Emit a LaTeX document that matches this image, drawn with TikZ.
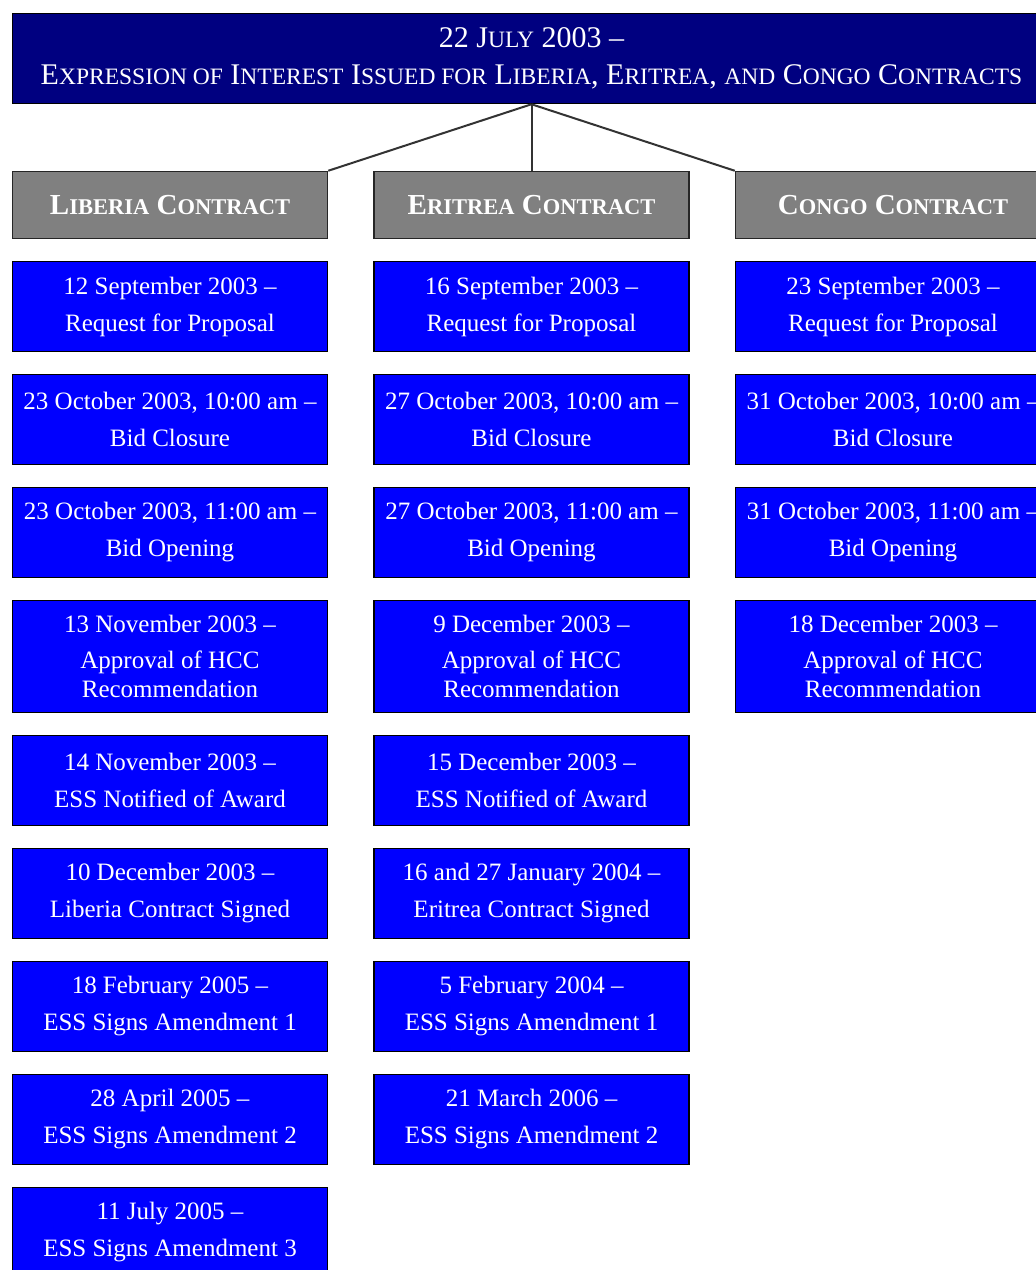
\documentclass[tikz,border=0pt]{standalone}
\usepackage{fontspec}
\setmainfont{Liberation Serif}
\usetikzlibrary{positioning}

\definecolor{topnavy}{RGB}{0,0,128}
\definecolor{headgray}{RGB}{128,128,128}
\definecolor{stepblue}{RGB}{0,0,255}
\definecolor{treegray}{RGB}{51,51,51}

% small capitals by hand
\newcommand{\lowcap}[1]{{\fontsize{23.5}{37}\selectfont #1}}
\newcommand{\headcap}[1]{{\fontsize{22.5}{29}\selectfont #1}}

\tikzset{
  topbox/.style={draw=black, line width=1.5pt, fill=topnavy, text=white, minimum width=1038pt, minimum height=90pt, align=center, font=\fontsize{30}{37}\selectfont},
  headbox/.style={draw=black!85, line width=1.5pt, fill=headgray, text=white, minimum width=315pt, minimum height=67pt, align=center, font=\bfseries\fontsize{29}{29}\selectfont},
  datebox/.style={draw=black, line width=1.5pt, fill=stepblue, text=white, minimum width=315pt, minimum height=90pt, align=center, font=\fontsize{25}{29}\selectfont},
  tallbox/.style={datebox, minimum height=112pt},
  treeline/.style={draw=treegray, line width=2pt}
}

\begin{document}
\begin{tikzpicture}[x=1pt,y=-1pt]
\useasboundingbox (0,0) rectangle (1036,1270);
\fill[white] (0,0) rectangle (1036,1270);
\clip (0,0) rectangle (1036,1270);

\node[topbox] (top) at (531.5,58.5) {22 J\lowcap{ULY} 2003 --\\E\lowcap{XPRESSION OF} I\lowcap{NTEREST} I\lowcap{SSUED FOR} L\lowcap{IBERIA}, E\lowcap{RITREA}, \lowcap{AND} C\lowcap{ONGO} C\lowcap{ONTRACTS}};

\node[headbox] (liberia) at (170,205) {L\headcap{IBERIA} C\headcap{ONTRACT}};
\node[headbox] (eritrea) at (531.5,205) {E\headcap{RITREA} C\headcap{ONTRACT}};
\node[headbox] (congo) at (893,205) {C\headcap{ONGO} C\headcap{ONTRACT}};

\draw[treeline] (top.south) -- (liberia.north east);
\draw[treeline] (top.south) -- (eritrea.north);
\draw[treeline] (top.south) -- (congo.north west);

% Liberia
\node[datebox] (lib1) at (170,306.5) {12 September 2003 --\\[8pt]Request for Proposal};
\node[datebox] (lib2) at (170,419.5) {23 October 2003, 10:00 am --\\[8pt]Bid Closure};
\node[datebox] (lib3) at (170,532.5) {23 October 2003, 11:00 am --\\[8pt]Bid Opening};
\node[tallbox] (lib4) at (170,656.5) {13 November 2003 --\\[7pt]Approval of HCC\\Recommendation};
\node[datebox] (lib5) at (170,780.5) {14 November 2003 --\\[8pt]ESS Notified of Award};
\node[datebox] (lib6) at (170,893.5) {10 December 2003 --\\[8pt]Liberia Contract Signed};
\node[datebox] (lib7) at (170,1006.5) {18 February 2005 --\\[8pt]ESS Signs Amendment 1};
\node[datebox] (lib8) at (170,1119.5) {28 April 2005 --\\[8pt]ESS Signs Amendment 2};
\node[datebox] (lib9) at (170,1232.5) {11 July 2005 --\\[8pt]ESS Signs Amendment 3};

% Eritrea
\node[datebox] (eri1) at (531.5,306.5) {16 September 2003 --\\[8pt]Request for Proposal};
\node[datebox] (eri2) at (531.5,419.5) {27 October 2003, 10:00 am --\\[8pt]Bid Closure};
\node[datebox] (eri3) at (531.5,532.5) {27 October 2003, 11:00 am --\\[8pt]Bid Opening};
\node[tallbox] (eri4) at (531.5,656.5) {9 December 2003 --\\[7pt]Approval of HCC\\Recommendation};
\node[datebox] (eri5) at (531.5,780.5) {15 December 2003 --\\[8pt]ESS Notified of Award};
\node[datebox] (eri6) at (531.5,893.5) {16 and 27 January 2004 --\\[8pt]Eritrea Contract Signed};
\node[datebox] (eri7) at (531.5,1006.5) {5 February 2004 --\\[8pt]ESS Signs Amendment 1};
\node[datebox] (eri8) at (531.5,1119.5) {21 March 2006 --\\[8pt]ESS Signs Amendment 2};

% Congo
\node[datebox] (con1) at (893,306.5) {23 September 2003 --\\[8pt]Request for Proposal};
\node[datebox] (con2) at (893,419.5) {31 October 2003, 10:00 am --\\[8pt]Bid Closure};
\node[datebox] (con3) at (893,532.5) {31 October 2003, 11:00 am --\\[8pt]Bid Opening};
\node[tallbox] (con4) at (893,656.5) {18 December 2003 --\\[7pt]Approval of HCC\\Recommendation};
\end{tikzpicture}
\end{document}
